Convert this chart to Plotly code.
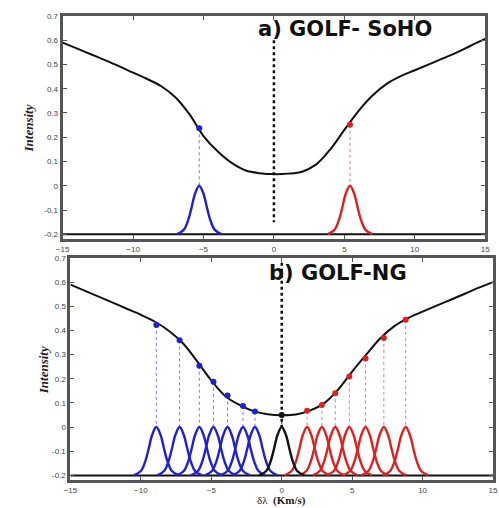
import plotly.graph_objects as go

# ---------------- data ----------------
# line profile (panel a)
prof_x = [-15, -14, -13, -12, -11, -10, -9, -8, -7, -6, -5, -4, -3, -2, -1, 0,
          1, 2, 3, 4, 5, 6, 7, 8, 9, 10, 11, 12, 13, 14, 15]
prof_a = [0.590, 0.566, 0.542, 0.518, 0.493, 0.466, 0.440, 0.410, 0.365, 0.295, 0.205,
          0.142, 0.094, 0.063, 0.052, 0.048, 0.050, 0.058, 0.088, 0.150, 0.230, 0.308,
          0.372, 0.420, 0.452, 0.476, 0.500, 0.525, 0.550, 0.578, 0.605]
# line profile (panel b)
prof_b = [0.590, 0.565, 0.540, 0.515, 0.490, 0.465, 0.436, 0.398, 0.346, 0.272, 0.193,
          0.128, 0.092, 0.066, 0.053, 0.049, 0.052, 0.068, 0.098, 0.155, 0.230, 0.300,
          0.368, 0.418, 0.452, 0.478, 0.503, 0.527, 0.552, 0.577, 0.600]

# single transmission peak shape (offset from centre, intensity)
peak_dx = [-1.6, -1.1, -0.8, -0.55, -0.3, 0.0, 0.3, 0.55, 0.8, 1.1, 1.6]
peak_y = [-0.200, -0.182, -0.144, -0.091, -0.033, 0.0, -0.033, -0.091, -0.144, -0.182, -0.200]

# panel a: two sampling points
a_blue_x, a_blue_dot = [-5.3], [0.237]
a_red_x, a_red_dot = [5.4], [0.251]

# panel b: fifteen sampling points
b_blue_x = [-8.9, -7.25, -5.85, -4.85, -3.85, -2.75, -1.9]
b_blue_dot = [0.423, 0.359, 0.254, 0.188, 0.131, 0.087, 0.064]
b_red_x = [1.8, 2.85, 3.8, 4.8, 5.95, 7.25, 8.8]
b_red_dot = [0.068, 0.091, 0.140, 0.209, 0.284, 0.369, 0.444]
b_black_x, b_black_dot = [0.0], [0.050]

x_ticks = [-15, -10, -5, 0, 5, 10, 15]
y_ticks = [-0.2, -0.1, 0, 0.1, 0.2, 0.3, 0.4, 0.5, 0.6, 0.7]
y_ticktext = ["-0.2", "-0.1", "0", "0.1", "0.2", "0.3", "0.4", "0.5", "0.6", "0.7"]

BLUE = "#1f1fd6"
RED = "#e01f1f"
DBLUE = "#7a7ae6"
DRED = "#e67a7a"

fig = go.Figure()


def add_panel(xa, ya, prof, blues, reds, blacks, centre_line):
    # baseline
    fig.add_trace(go.Scatter(x=[prof_x[0], prof_x[-1]], y=[-0.2, -0.2], mode="lines",
                             line=dict(color="#111", width=2), xaxis=xa, yaxis=ya,
                             showlegend=False, hoverinfo="skip"))
    # central dotted line
    fig.add_trace(go.Scatter(x=[0, 0], y=centre_line, mode="lines",
                             line=dict(color="#111", width=2.5, dash="dot"),
                             xaxis=xa, yaxis=ya, showlegend=False, hoverinfo="skip"))
    for (cx, dots, col, dcol) in blues + reds + blacks:
        for c, d in zip(cx, dots):
            fig.add_trace(go.Scatter(x=[c, c], y=[d, 0], mode="lines",
                                     line=dict(color=dcol, width=1, dash="dot"),
                                     xaxis=xa, yaxis=ya, showlegend=False, hoverinfo="skip"))
            fig.add_trace(go.Scatter(x=[c + dx for dx in peak_dx], y=peak_y, mode="lines",
                                     line=dict(color=col, width=2.4, shape="spline"),
                                     xaxis=xa, yaxis=ya, showlegend=False))
    # profile curve
    fig.add_trace(go.Scatter(x=prof_x, y=prof, mode="lines",
                             line=dict(color="#111", width=2, shape="spline"),
                             xaxis=xa, yaxis=ya, showlegend=False))
    for (cx, dots, col, dcol) in blues + reds + blacks:
        fig.add_trace(go.Scatter(x=cx, y=dots, mode="markers",
                                 marker=dict(color=col, size=6),
                                 xaxis=xa, yaxis=ya, showlegend=False))


add_panel("x", "y", prof_a,
          [(a_blue_x, a_blue_dot, BLUE, DBLUE)],
          [(a_red_x, a_red_dot, RED, DRED)], [], [0.60, -0.15])
add_panel("x2", "y2", prof_b,
          [(b_blue_x, b_blue_dot, BLUE, DBLUE)],
          [(b_red_x, b_red_dot, RED, DRED)],
          [(b_black_x, b_black_dot, "#111", "#333")], [0.68, 0.0])

W, H = 499, 508
frame = dict(showline=True, linewidth=3, linecolor="#555", mirror="ticks",
             ticks="inside", ticklen=4, tickcolor="#555", showgrid=False, zeroline=False,
             tickfont=dict(family="Liberation Sans, Arial", size=8, color="#444"))

fig.update_layout(
    width=W, height=H, margin=dict(l=0, r=0, t=0, b=0),
    paper_bgcolor="white", plot_bgcolor="white", showlegend=False,
    xaxis=dict(domain=[57 / W, 490 / W], range=[-15, 15], tickvals=x_ticks,
               anchor="y", ticklabelstandoff=0, **frame),
    yaxis=dict(domain=[1 - 237 / H, 1 - 12 / H], range=[-0.22, 0.7], tickvals=y_ticks,
               ticktext=y_ticktext, anchor="x", **frame),
    xaxis2=dict(domain=[65 / W, 498 / W], range=[-15, 15], tickvals=x_ticks,
                anchor="y2", ticklabelstandoff=0, **frame),
    yaxis2=dict(domain=[1 - 480 / H, 1 - 256 / H], range=[-0.22, 0.7], tickvals=y_ticks,
                ticktext=y_ticktext, anchor="x2", **frame),
)

ann_title = dict(family="DejaVu Sans", size=21, color="#111")
ann_ylab = dict(family="Liberation Serif", size=13, color="#222", style="italic", weight="bold")
fig.add_annotation(text="<b>a) GOLF- SoHO</b>", xref="paper", yref="paper",
                   x=255 / W, y=1 - 25 / H, xanchor="left", yanchor="middle",
                   showarrow=False, font=ann_title)
fig.add_annotation(text="<b>b) GOLF-NG</b>", xref="paper", yref="paper",
                   x=266 / W, y=1 - 271 / H, xanchor="left", yanchor="middle",
                   showarrow=False, font=ann_title)
fig.add_annotation(text="Intensity", xref="paper", yref="paper", textangle=-90,
                   x=22 / W, y=1 - 125 / H, xanchor="center", yanchor="middle",
                   showarrow=False, font=ann_ylab)
fig.add_annotation(text="Intensity", xref="paper", yref="paper", textangle=-90,
                   x=37 / W, y=1 - 369 / H, xanchor="center", yanchor="middle",
                   showarrow=False, font=ann_ylab)
fig.add_annotation(text="δλ  <b>(Km/s)</b>", xref="paper", yref="paper",
                   x=281 / W, y=0, xanchor="center", yanchor="bottom",
                   showarrow=False, borderpad=0,
                   font=dict(family="Liberation Serif", size=11, color="#222"))

fig.write_html("out.html")
